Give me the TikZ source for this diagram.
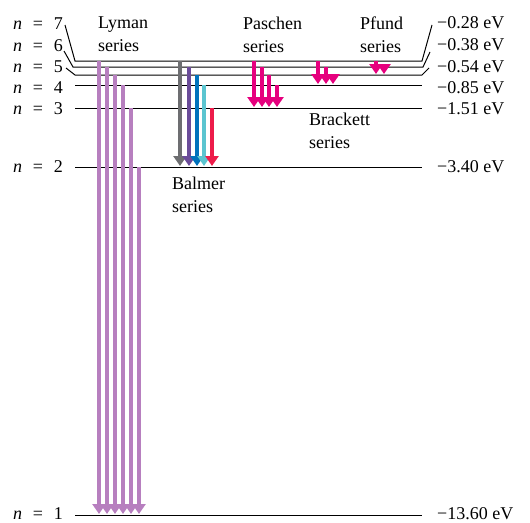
\documentclass[tikz,border=0pt]{standalone}
\usepackage{fontspec}
\setmainfont{Liberation Serif}
\usetikzlibrary{arrows.meta}
\definecolor{lyman}{RGB}{183,127,191}
\definecolor{bgray}{RGB}{109,110,113}
\definecolor{bviolet}{RGB}{107,76,154}
\definecolor{bblue}{RGB}{0,114,188}
\definecolor{bcyan}{RGB}{91,197,208}
\definecolor{bred}{RGB}{237,28,74}
\definecolor{ir}{RGB}{230,0,126}
\tikzset{
  level/.style={line width=1pt},
  lab/.style={font=\fontsize{18}{23}\selectfont,inner sep=0pt},
  series/.style={lab,align=left,anchor=north west},
  photon/.style={line width=4pt,draw=#1,-{Triangle[width=13pt,length=10pt]},shorten >=1pt},
  photon/.default=ir,
}
\newcommand{\nlev}[1]{\textit{n}\hspace{0.6em}=\hspace{0.6em}#1}

\begin{document}
\begin{tikzpicture}[x=1pt,y=-1pt]
  \useasboundingbox (0,0) rectangle (530,522);
  % levels
  \foreach \n/\y in {1/515,2/167,3/108,4/85,5/75,6/67,7/61}
    \coordinate (L\n) at (0,\y);
  % labels left and right
  \foreach \n/\y in {7/29,6/51,5/72,4/93,3/114,2/172,1/519}
    \node[lab,anchor=base east] (n\n) at (63,\y) {\nlev{\n}};
  \foreach \n/\y/\e in {7/28/0.28,6/50/0.38,5/72/0.54,4/93/0.85,3/114/1.51,2/172/3.40,1/519/13.60}
    \node[lab,anchor=base west] (e\n) at (437,\y) {−\e\ eV};
  % level lines
  \draw[level] ([xshift=2pt,yshift=4pt]n7.base east) -- (75,0 |- L7) -- (422,0 |- L7)
    -- ([xshift=-5pt,yshift=3pt]e7.base west);
  \draw[level] ([xshift=1pt,yshift=0pt]n6.base east) -- (73,0 |- L6) -- (423,0 |- L6)
    -- ([xshift=-7pt,yshift=-2pt]e6.base west);
  \draw[level] ([xshift=3pt,yshift=4pt]n5.base east) -- (75,0 |- L5) -- (422,0 |- L5)
    -- ([xshift=-8pt,yshift=4pt]e5.base west);
  \foreach \n in {4,3,2,1}
    \draw[level] (75,0 |- L\n) -- (422,0 |- L\n);
  % Lyman
  \foreach \x/\n in {99/7,107/6,115/5,123/4,131/3,139/2}
    \draw[photon=lyman] (\x,0 |- L\n) -- (\x,0 |- L1);
  % Balmer
  \foreach \x/\n/\c in {180/7/bgray,189/6/bviolet,197/5/bblue,204/4/bcyan,212/3/bred}
    \draw[photon=\c] (\x,0 |- L\n) -- (\x,0 |- L2);
  % Paschen, Brackett, Pfund
  \foreach \x/\n in {254/7,262/6,269/5,277/4}
    \draw[photon] (\x,0 |- L\n) -- (\x,0 |- L3);
  \foreach \x/\n in {318/7,326/6,333/5}
    \draw[photon] (\x,0 |- L\n) -- (\x,0 |- L4);
  \foreach \x/\n in {376/7,384/6}
    \draw[photon] (\x,0 |- L\n) -- (\x,0 |- L5);
  % series names
  \node[series] (lyman) at (98,17) {Lyman\\series};
  \node[series] (paschen) at (243,17) {Paschen\\series};
  \node[series] (pfund) at (360,17) {Pfund\\series};
  \node[series] (brackett) at (309,113) {Brackett\\series};
  \node[series] (balmer) at (172,177) {Balmer\\series};
\end{tikzpicture}
\end{document}
